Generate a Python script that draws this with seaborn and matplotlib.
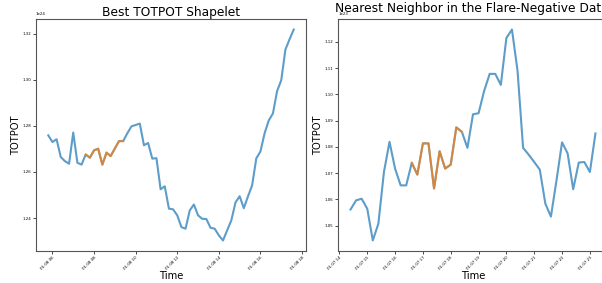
import matplotlib
matplotlib.use("Agg")
import matplotlib.pyplot as plt
import matplotlib.dates as mdates
import seaborn as sns
import pandas as pd

# ---- data (12-minute cadence) ----
left_start = "2012-01-08 05:48"
left_scale = 1e24
left_values = [1.2759, 1.2730, 1.2742, 1.2665, 1.2647, 1.2636, 1.2771, 1.2640, 1.2632, 1.2676,
               1.2662, 1.2694, 1.2701, 1.2632, 1.2684, 1.2669, 1.2702, 1.2734, 1.2734, 1.2768,
               1.2798, 1.2804, 1.2810, 1.2716, 1.2726, 1.2658, 1.2660, 1.2525, 1.2538, 1.2441,
               1.2438, 1.2412, 1.2361, 1.2354, 1.2433, 1.2459, 1.2412, 1.2397, 1.2396, 1.2358,
               1.2354, 1.2325, 1.2303, 1.2347, 1.2390, 1.2468, 1.2495, 1.2443, 1.2494, 1.2542,
               1.2659, 1.2689, 1.2768, 1.2824, 1.2854, 1.2951, 1.2998, 1.3131, 1.3176, 1.3218]
left_shapelet = (9, 19)

right_start = "2012-01-07 14:24"
right_scale = 1e23
right_values = [1.0561, 1.0596, 1.0602, 1.0564, 1.0443, 1.0507, 1.0704, 1.0819, 1.0717, 1.0653,
                1.0653, 1.0739, 1.0694, 1.0813, 1.0813, 1.0641, 1.0783, 1.0717, 1.0732, 1.0874,
                1.0857, 1.0796, 1.0924, 1.0928, 1.1013, 1.1078, 1.1078, 1.1036, 1.1215, 1.1247,
                1.1090, 1.0796, 1.0770, 1.0742, 1.0713, 1.0583, 1.0534, 1.0672, 1.0817, 1.0775,
                1.0638, 1.0740, 1.0742, 1.0704, 1.0851]
right_shapelet = (11, 21)

left_title = "Best TOTPOT Shapelet"
right_title = "Nearest Neighbor in the Flare-Negative Dataset"
y_label = "TOTPOT"
x_label = "Time"

blue = "#1f77b4"
orange = "#ff7f0e"


def make_df(start, values, scale):
    t = pd.date_range(start, periods=len(values), freq="12min")
    return pd.DataFrame({"Time": t, "TOTPOT": [v * scale for v in values]})


fig = plt.figure(figsize=(6.02, 2.83), dpi=100)
ax1 = fig.add_axes([36 / 602, 32 / 283, 270 / 602, 232 / 283])
ax2 = fig.add_axes([338.3 / 602, 32 / 283, 269.4 / 602, 232 / 283])

panels = [
    (ax1, left_start, left_values, left_scale, left_shapelet, 2, -0.056),
    (ax2, right_start, right_values, right_scale, right_shapelet, 1, -0.058),
]

for ax, start, vals, scale, (s0, s1), step, ylx in panels:
    df = make_df(start, vals, scale)
    sns.lineplot(data=df, x="Time", y="TOTPOT", ax=ax, color=blue, lw=1.5, alpha=0.72)
    sns.lineplot(data=df.iloc[s0:s1], x="Time", y="TOTPOT", ax=ax, color=orange, lw=1.5, alpha=0.72)
    ax.set_xlabel(x_label, fontsize=7.2, labelpad=0)
    ax.set_ylabel(y_label, fontsize=7.2)
    ax.yaxis.set_label_coords(ylx, 0.5)
    ax.xaxis.set_major_locator(mdates.HourLocator(interval=step))
    ax.xaxis.set_major_formatter(mdates.DateFormatter("%m-%d %H"))
    ax.tick_params(axis="both", labelsize=2.8, length=2, width=0.5, pad=1.5)
    for lab in ax.get_xticklabels():
        lab.set_rotation(45)
        lab.set_ha("right")
        lab.set_rotation_mode("anchor")
    ax.yaxis.get_offset_text().set_fontsize(2.8)
    for sp in ax.spines.values():
        sp.set_linewidth(0.8)
        sp.set_color("#555555")

ax1.set_title(left_title, fontsize=8.8, pad=1.5)
# right title drawn as plain axes text (left part visible, cropped at the figure edge like the reference)
ax2.text(-0.012, 1.030, right_title, transform=ax2.transAxes, fontsize=8.8,
         ha="left", va="baseline")

fig.savefig("out.png", dpi=100)
